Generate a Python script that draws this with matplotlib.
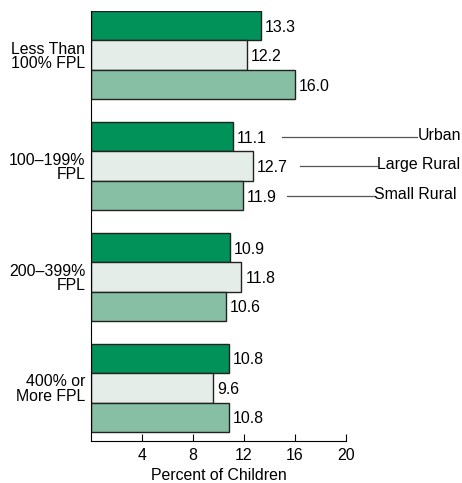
import numpy as np
import matplotlib.pyplot as plt

plt.rcParams["font.family"] = ["Liberation Sans", "DejaVu Sans"]

# donnees
groupes = ["Less Than\n100% FPL", "100\u2013199%\nFPL", "200\u2013399%\nFPL", "400% or\nMore FPL"]
series = ["Urban", "Large Rural", "Small Rural"]
urban = [13.3, 11.1, 10.9, 10.8]
large_rural = [12.2, 12.7, 11.8, 9.6]
small_rural = [16.0, 11.9, 10.6, 10.8]
couleurs = ["#009259", "#e4ede8", "#86bfa3"]

valeurs = [urban, large_rural, small_rural]
pas = 3.76
taille = 11.4

fig = plt.figure(figsize=(4.62, 4.83), dpi=100)
ax = fig.add_axes([91 / 462, 1 - 441 / 483, 255 / 462, 430 / 483])

for j, (nom, vals) in enumerate(zip(series, valeurs)):
    pos = np.arange(len(groupes)) * pas + j + 0.5
    ax.barh(pos, vals, height=1.0, color=couleurs[j], edgecolor="#222222", linewidth=1.0)
    for p, v in zip(pos, vals):
        ax.text(v + 0.3, p + 0.05, f"{v:.1f}", va="center", ha="left", fontsize=taille)

# legende par traits (groupe 100-199%)
leg = [(15.0, 25.6, "Urban"), (16.4, 22.45, "Large Rural"), (15.4, 22.2, "Small Rural")]
for j, (x0, x1, nom) in enumerate(leg):
    y = pas + j + 0.5
    ax.plot([x0, x1], [y, y], color="#555555", linewidth=0.9, clip_on=False)
    ax.text(x1 + 0.02, y - 0.05, nom, va="center", ha="left", fontsize=taille)

ax.set_xlim(0, 20)
ax.set_ylim(3 * pas + 3 + 0.3, 0)
ax.set_xticks([4, 8, 12, 16, 20])
ax.tick_params(axis="x", direction="in", length=5, labelsize=taille, pad=5)
ax.set_yticks(np.arange(len(groupes)) * pas + 1.5)
ax.set_yticklabels(groupes, fontsize=taille, linespacing=0.95)
ax.tick_params(axis="y", length=0, pad=4)
ax.spines["top"].set_visible(False)
ax.spines["right"].set_visible(False)
ax.set_xlabel("Percent of Children", fontsize=taille, labelpad=4)

plt.savefig("out.png", dpi=100)
